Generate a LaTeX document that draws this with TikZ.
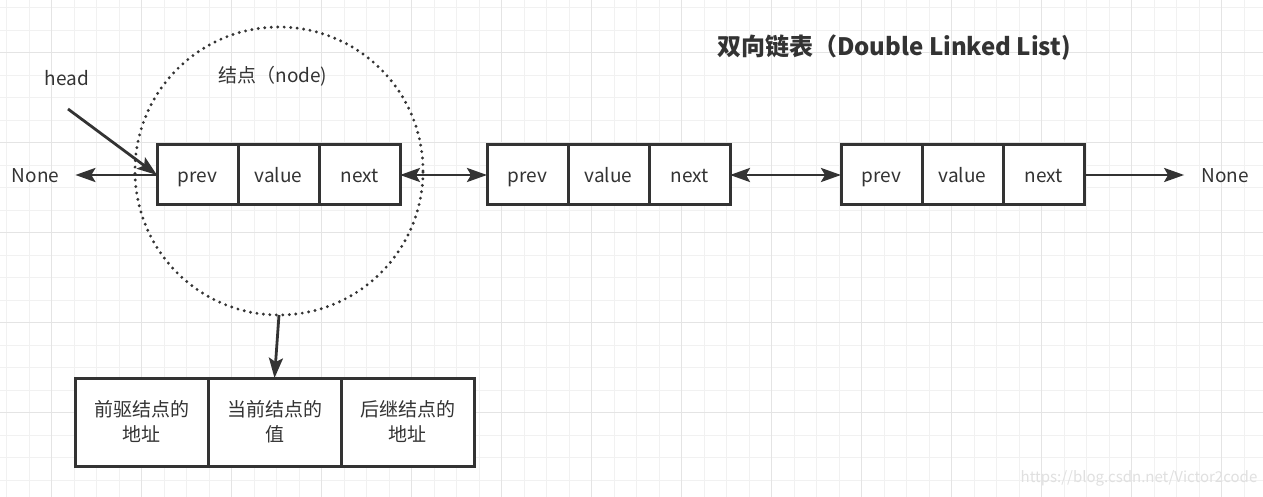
\documentclass[tikz,border=0pt]{standalone}
\usepackage{fontspec}
\setmainfont{Noto Sans CJK SC}
\usetikzlibrary{arrows.meta,positioning}
\definecolor{ink}{HTML}{333333}
\definecolor{gridminor}{HTML}{F1F1F1}
\definecolor{gridmajor}{HTML}{E4E4E4}

\begin{document}
\begin{tikzpicture}[x=1pt,y=-1pt,
  >={Stealth[length=20pt,width=14pt,inset=4pt]},
  cell/.style={draw=ink,fill=white,line width=3pt,minimum width=81pt,minimum height=60pt,inner sep=0pt,outer sep=0pt,text height=18pt,text depth=2pt,text=ink,font=\fontsize{19}{23}\selectfont},
  memo/.style={draw=ink,fill=white,line width=3pt,minimum width=133pt,minimum height=88pt,inner sep=0pt,outer sep=0pt,align=center,text=ink,font=\fontsize{19}{25}\selectfont},
  lbl/.style={text=ink,inner sep=2pt,text height=18pt,text depth=2pt,font=\fontsize{19}{23}\selectfont},
  link/.style={draw=ink,line width=2.8pt}]
\useasboundingbox (0,0) rectangle (1263,497);
\fill[white] (0,0) rectangle (1263,497);
\foreach \i in {0,...,55} \draw[gridminor,line width=1pt] (6.7+22.5*\i,0) -- ++(0,497);
\foreach \j in {0,...,21} \draw[gridminor,line width=1pt] (0,7.7+22.5*\j) -- ++(1263,0);
\foreach \i in {0,...,13} \draw[gridmajor,line width=1pt] (51.7+90*\i,0) -- ++(0,497);
\foreach \j in {0,...,5} \draw[gridmajor,line width=1pt] (0,52.7+90*\j) -- ++(1263,0);

\node[text=ink,font=\bfseries\fontsize{24}{24}\selectfont] (title) at (894,48) {双向链表（Double Linked List)};
\node[lbl] (head) at (67,78) {head};
\coordinate (headtail) at (68,109);
\node[lbl] (nodename) at (273,75) {结点（node)};
\node[lbl] (noneL) at (35.5,175) {None};
\node[lbl] (noneR) at (1225,175) {None};
\node[text=black!12,inner sep=0pt,font=\fontsize{15}{15}\selectfont] (mark) at (1139,478) {https://blog.csdn.net/Victor2code};

\node[cell] (prev1) at (197.5,175) {prev};
\node[cell,right=0pt of prev1] (value1) {value};
\node[cell,right=0pt of value1] (next1) {next};
\node[cell] (prev2) at (527.5,175) {prev};
\node[cell,right=0pt of prev2] (value2) {value};
\node[cell,right=0pt of value2] (next2) {next};
\node[cell] (prev3) at (881.5,175) {prev};
\node[cell,right=0pt of prev3] (value3) {value};
\node[cell,right=0pt of value3] (next3) {next};

\node[memo] (before) at (141.5,422) {前驱结点的\\地址};
\node[memo,right=0pt of before] (current) {当前结点的\\值};
\node[memo,right=0pt of current] (after) {后继结点的\\地址};

\draw[link,->,shorten >=14pt] (prev1.west) -- (noneL.east);
\draw[link,->] (headtail) -- (prev1.west);
\draw[link,<->] (next1.east) -- (prev2.west);
\draw[link,<->] (next2.east) -- (prev3.west);
\draw[link,->,shorten >=15pt] (next3.east) -- (noneR.west);

\node[circle,draw=ink,line width=3.2pt,dash pattern=on 0pt off 6.5pt,line cap=round,minimum size=288pt,inner sep=0pt,outer sep=0pt] (ring) at (279,171) {};
\draw[link,->] (ring.south) -- (current.north);
\end{tikzpicture}
\end{document}
